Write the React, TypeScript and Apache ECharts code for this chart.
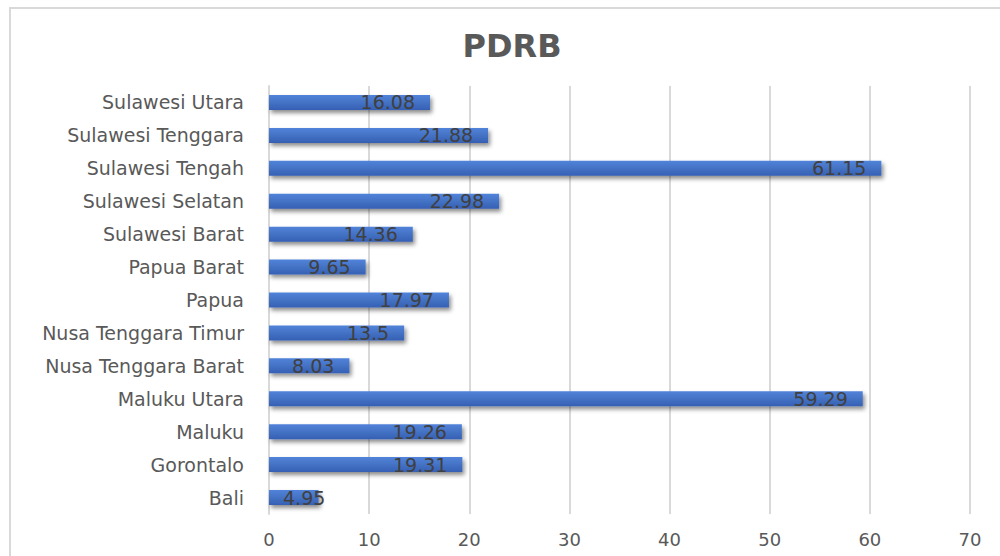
import React, { useEffect, useRef } from "react";
import * as echarts from "echarts";

const categories = [
  "Bali",
  "Gorontalo",
  "Maluku",
  "Maluku Utara",
  "Nusa Tenggara Barat",
  "Nusa Tenggara Timur",
  "Papua",
  "Papua Barat",
  "Sulawesi Barat",
  "Sulawesi Selatan",
  "Sulawesi Tengah",
  "Sulawesi Tenggara",
  "Sulawesi Utara",
];
const values = [4.95, 19.31, 19.26, 59.29, 8.03, 13.5, 17.97, 9.65, 14.36, 22.98, 61.15, 21.88, 16.08];
const labels = ["4.95", "19.31", "19.26", "59.29", "8.03", "13.5", "17.97", "9.65", "14.36", "22.98", "61.15", "21.88", "16.08"];

const FONT = "'DejaVu Sans', 'Open Sans', sans-serif";

export default function App() {
  const ref = useRef<HTMLDivElement>(null);
  useEffect(() => {
    if (!ref.current) return;
    const chart = echarts.init(ref.current, null, { renderer: "svg" });
    const data = values.map((v, i) =>
      i === 0
        ? { value: v, label: { position: "insideLeft", distance: 14 } }
        : { value: v }
    );
    chart.setOption({
      animation: false,
      backgroundColor: "#ffffff",
      title: {
        text: "PDRB",
        left: 507,
        top: 25,
        textAlign: "center",
        textStyle: { fontFamily: FONT, fontSize: 32, fontWeight: "bold", color: "#595959" },
      },
      graphic: [
        {
          type: "rect",
          shape: { x: 10, y: 8, width: 1000, height: 560 },
          style: { fill: "none", stroke: "#d9d9d9", lineWidth: 2 },
          silent: true,
        },
      ],
      grid: { left: 269, right: 30, top: 86, bottom: 42, containLabel: false },
      xAxis: {
        type: "value",
        min: 0,
        max: 70,
        interval: 10,
        axisLine: { show: false },
        axisTick: { show: false },
        splitLine: { show: true, lineStyle: { color: "#d9d9d9", width: 2 } },
        axisLabel: { fontFamily: FONT, fontSize: 18, color: "#595959", margin: 16 },
      },
      yAxis: {
        type: "category",
        data: categories,
        axisLine: { show: true, lineStyle: { color: "#d9d9d9", width: 2 } },
        axisTick: { show: false },
        axisLabel: { fontFamily: FONT, fontSize: 19, color: "#595959", margin: 25 },
      },
      series: [
        {
          type: "bar",
          data,
          barWidth: 15,
          itemStyle: {
            color: new echarts.graphic.LinearGradient(0, 0, 0, 1, [
              { offset: 0, color: "#5183da" },
              { offset: 0.5, color: "#4472c4" },
              { offset: 1, color: "#3560b4" },
            ]),
            shadowColor: "rgba(0,0,0,0.45)",
            shadowBlur: 4,
            shadowOffsetX: 2,
            shadowOffsetY: 3,
          },
          label: {
            show: true,
            position: "insideRight",
            distance: 15,
            formatter: (p: any) => labels[p.dataIndex],
            fontFamily: FONT,
            fontSize: 19,
            color: "#404040",
          },
        },
      ],
    });
    return () => chart.dispose();
  }, []);
  return (
    <div
      ref={ref}
      style={{ position: "absolute", left: 0, top: 0, width: 1000, height: 556 }}
    />
  );
}
